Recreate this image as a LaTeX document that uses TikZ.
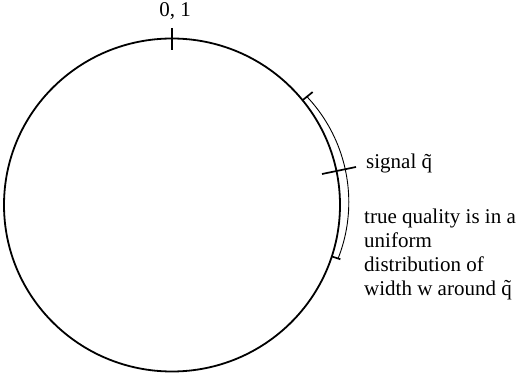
\documentclass[tikz,border=0pt]{standalone}
\usepackage{fontspec}
\setmainfont{Liberation Serif}
\begin{document}
\begin{tikzpicture}[x=1pt,y=1pt,
  circ/.style={line width=1.8pt},
  tickline/.style={line width=1.7pt},
  band/.style={line width=0.9pt},
  lbl/.style={anchor=base west,inner sep=0pt,font=\fontsize{21}{23.7}\selectfont},
  lblc/.style={anchor=base,inner sep=0pt,font=\fontsize{21}{23.7}\selectfont}]
\useasboundingbox (0,0) rectangle (524,372);
\coordinate (C) at (172,167);
\draw[circ] (C) ellipse [x radius=168, y radius=166.5];
% top tick
\coordinate (t1) at (172,344);
\coordinate (t2) at (172,322);
\draw[tickline] (t1) -- (t2);
% signal tick
\coordinate (s1) at (322,198);
\coordinate (s2) at (356,205);
\draw[tickline] (s1) -- (s2);
% upper end tick of the band
\coordinate (u1) at ({172+168*cos(39)},{167+166.5*sin(39)});
\coordinate (u2) at ({172+181*cos(39)},{167+179.5*sin(39)});
\draw[tickline] (u1) -- (u2);
% lower end tick of the band
\coordinate (l1) at ({172+168*cos(-18)},{167+166.5*sin(-18)});
\coordinate (l2) at ({172+177*cos(-18)},{167+175.5*sin(-18)});
\draw[tickline] (l1) -- (l2);
% the band arc
\draw[band] plot[domain=-18:39,samples=40,smooth]
  ({172+(168+9-0.0035*(\x-8)^2)*cos(\x)},{167+(166.5+9-0.0035*(\x-8)^2)*sin(\x)});
% labels
\node[lblc] (zero) at (175,355) {0, 1};
\node[lbl] (sig) at (366,203) {signal q̃};
\node[lbl] (txt) at (364,148) {\parbox[t]{160pt}{\raggedright true quality is in a\\ uniform\\ distribution of\\ width w around q̃}};
\end{tikzpicture}
\end{document}
